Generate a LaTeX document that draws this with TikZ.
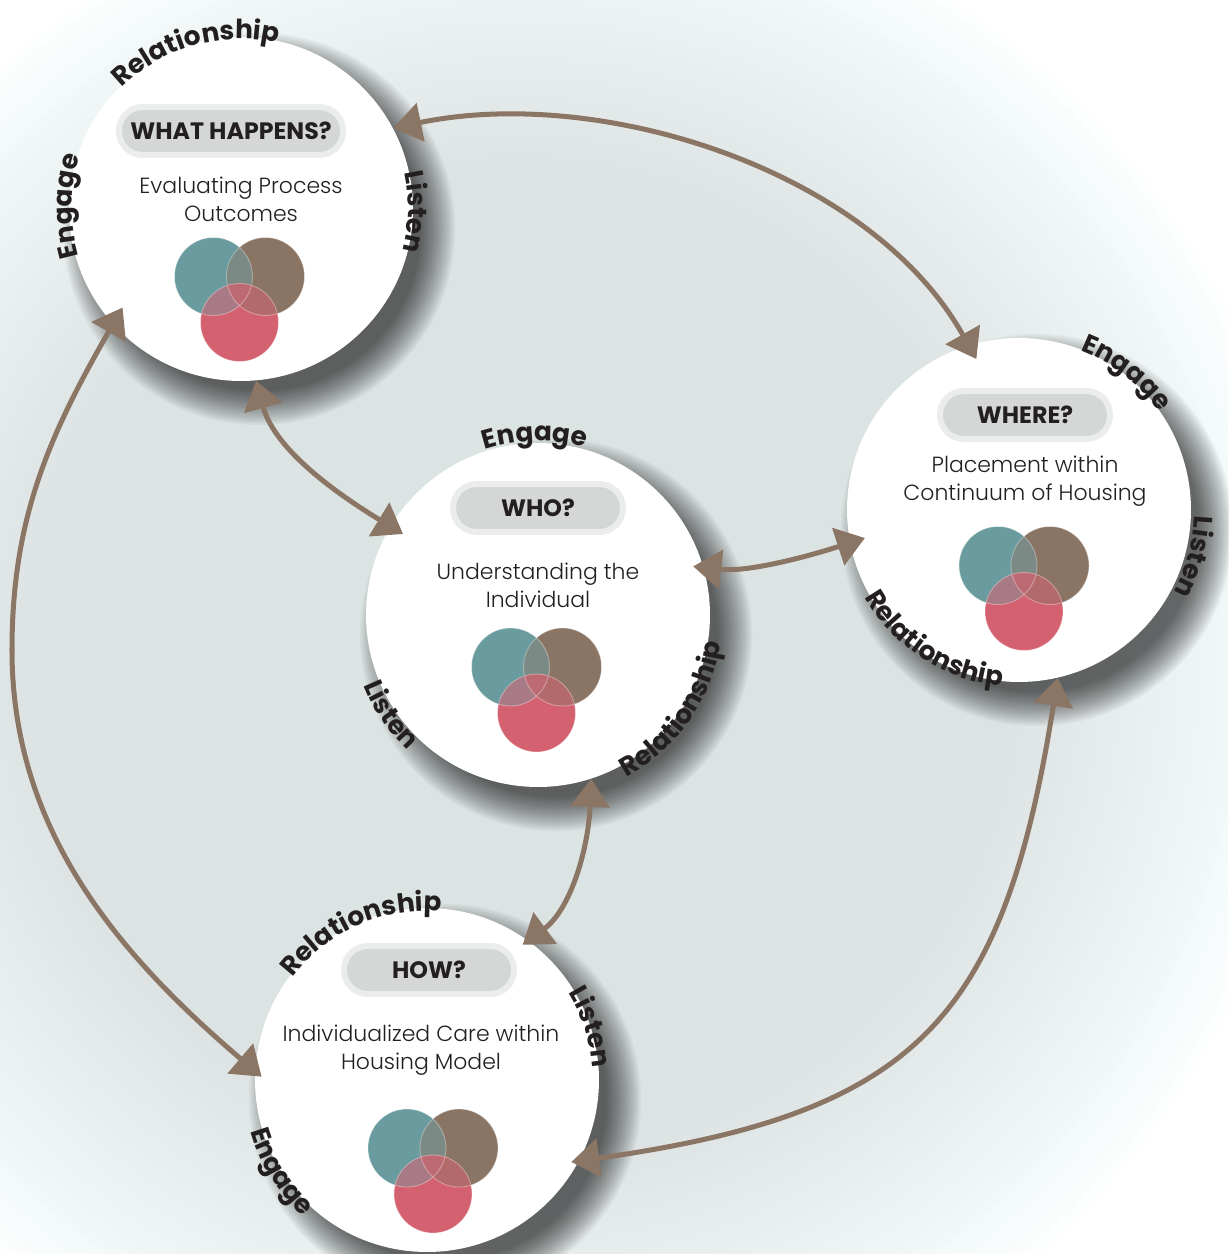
\documentclass[tikz,border=0pt]{standalone}
\usepackage{fontspec}
\setmainfont{Poppins}
\newfontfamily\headfont{Poppins Bold}
\newfontfamily\lightfont{Poppins Light}
\usetikzlibrary{arrows.meta,calc,decorations.text}

\definecolor{linkbrown}{HTML}{8B7665}
\definecolor{inkdark}{HTML}{231F20}
\definecolor{pillfill}{HTML}{D5D6D6}
\definecolor{pillring}{HTML}{EBECEC}
\definecolor{vteal}{HTML}{6A9B9E}
\definecolor{vbrown}{HTML}{8A7464}
\definecolor{vred}{HTML}{D4616F}
\definecolor{vtb}{HTML}{7B8A84}
\definecolor{vtr}{HTML}{A87A85}
\definecolor{vbr}{HTML}{B26A6B}
\definecolor{vtbr}{HTML}{BE6A72}
\definecolor{bgmid}{HTML}{DCE3E3}

\newcommand\ringfont{\color{inkdark}\headfont\fontsize{15}{15}\selectfont}

% label round a hub, read clockwise, letters facing out
\newcommand\ringout[4]{%
  \path[decorate,decoration={text along path,text align=center,text={|\ringfont|#4}}]
    (#1) ++(#2+50:#3) arc[start angle=#2+50,end angle=#2-50,radius=#3];}
% label round a hub, read anticlockwise, letters facing in
\newcommand\ringin[4]{%
  \path[decorate,decoration={text along path,text align=center,text={|\ringfont|#4}}]
    (#1) ++(#2-50:#3) arc[start angle=#2-50,end angle=#2+50,radius=#3];}

% three overlapping discs
\newcommand\vennat[1]{%
  \begin{scope}[shift={(#1)}]
    \fill[vteal] (-26,0) circle[radius=39];
    \fill[vbrown] (26,0) circle[radius=39];
    \begin{scope}
      \clip (-26,0) circle[radius=39];
      \fill[vtb] (26,0) circle[radius=39];
    \end{scope}
    \fill[vred] (0,-46) circle[radius=39];
    \begin{scope}
      \clip (0,-46) circle[radius=39];
      \fill[vtr] (-26,0) circle[radius=39];
      \fill[vbr] (26,0) circle[radius=39];
      \clip (-26,0) circle[radius=39];
      \fill[vtbr] (26,0) circle[radius=39];
    \end{scope}
    \draw[white,opacity=.35,line width=.5pt] (-26,0) circle[radius=39] (26,0) circle[radius=39] (0,-46) circle[radius=39];
  \end{scope}}

\begin{document}
\begin{tikzpicture}[x=0.02cm,y=0.02cm,
    hub/.style={circle,fill=white,minimum size=6.88cm,inner sep=0pt},
    pill/.style={fill=pillfill,draw=pillring,line width=3.4pt,rounded corners=13.5pt,
      minimum width=3.4cm,minimum height=0.96cm,inner xsep=6.5pt,
      font=\headfont\fontsize{13.5}{15}\selectfont,text=inkdark},
    blurb/.style={align=center,font=\lightfont\fontsize{12.5}{16}\selectfont,text=inkdark},
    link/.style={draw=linkbrown,line width=2.85pt,
      {Triangle[length=16pt,width=22pt]}-{Triangle[length=16pt,width=22pt]}}]

  \useasboundingbox (0,0) rectangle (1228,-1254);
  % soft backdrop, grey in the middle and white at the corners
  \begin{scope}
    \clip (0,0) rectangle (1228,-1254);
    \fill[white] (0,0) rectangle (1228,-1254);
    \foreach \k in {1,...,30}{
      \pgfmathsetmacro\op{(1/30)/(1-(\k-1)/30)}
      \fill[bgmid,opacity=\op] (520,-660) circle[radius=800-11*\k];
    }
  \end{scope}

  % hubs with soft shadows
  \foreach \cx/\cy/\nm in {241/209/happens,538/615/who,1019/510/where,427/1080/how}{
    \foreach \k in {0,...,19}
      \fill[black,opacity=0.04] (\cx+18,-\cy-20) circle[radius=196-1.8*\k];
    \node[hub] (\nm) at (\cx,-\cy) {};
  }

  % contents
  \node[pill] (happens-q) at ($(happens)+(-10,78)$) {WHAT HAPPENS?};
  \node[blurb] (happens-t) at ($(happens)+(0,10)$) {Evaluating Process\\Outcomes};
  \vennat{$(happens)+(-1.5,-67.5)$}

  \node[pill] (who-q) at ($(who)+(0,107)$) {WHO?};
  \node[blurb] (who-t) at ($(who)+(0,30)$) {Understanding the\\Individual};
  \vennat{$(who)+(-1.5,-52)$}

  \node[pill] (where-q) at ($(where)+(6,95)$) {WHERE?};
  \node[blurb] (where-t) at ($(where)+(6,29)$) {Placement within\\Continuum of Housing};
  \vennat{$(where)+(5,-55.5)$}

  \node[pill] (how-q) at ($(how)+(2,110)$) {HOW?};
  \node[blurb] (how-t) at ($(how)+(-6,30)$) {Individualized Care within\\Housing Model};
  \vennat{$(how)+(6,-68)$}

  % labels round the hubs
  \ringout{happens}{106}{170}{Relationship}
  \ringout{happens}{-1}{167}{Listen}
  \ringout{happens}{179}{169}{Engage}

  \ringout{who}{91}{174}{Engage}
  \ringin{who}{214}{188}{Listen}
  \ringin{who}{-35}{185}{Relationship}

  \ringout{where}{52}{171}{Engage}
  \ringout{where}{-15}{175}{Listen}
  \ringin{where}{237}{177}{Relationship}

  \ringout{how}{114}{169}{Relationship}
  \ringout{how}{18}{166}{Listen}
  \ringin{how}{212}{184}{Engage}

  % links
  \coordinate (leftbend) at (12,-650);
  \draw[link,shorten >=-9pt] (happens.28) .. controls +(207,43) and +(-99,176) .. (where.107);
  \draw[link,shorten >=-8.5pt] (happens.-85) .. controls +(19,-70) and +(-51,31) .. (who.149);
  \draw[link,shorten <=-6pt,shorten >=-9pt] (who.16) .. controls +(45,-5) and +(-40,-13) .. (where.191);
  \draw[link,shorten >=-4pt] (who.-72) .. controls +(-3,-71) and +(42,31) .. (how.54);
  \draw[link,shorten <=-11pt,shorten >=-5pt] (happens.222) .. controls +(-65,-113) and +(0,130) .. (leftbend)
    .. controls +(0,-180) and +(-137,117) .. (how.177);
  \draw[link,shorten >=-4.5pt] (where.-77) .. controls +(-54,-340) and +(340,48) .. (how.-28);
\end{tikzpicture}
\end{document}
